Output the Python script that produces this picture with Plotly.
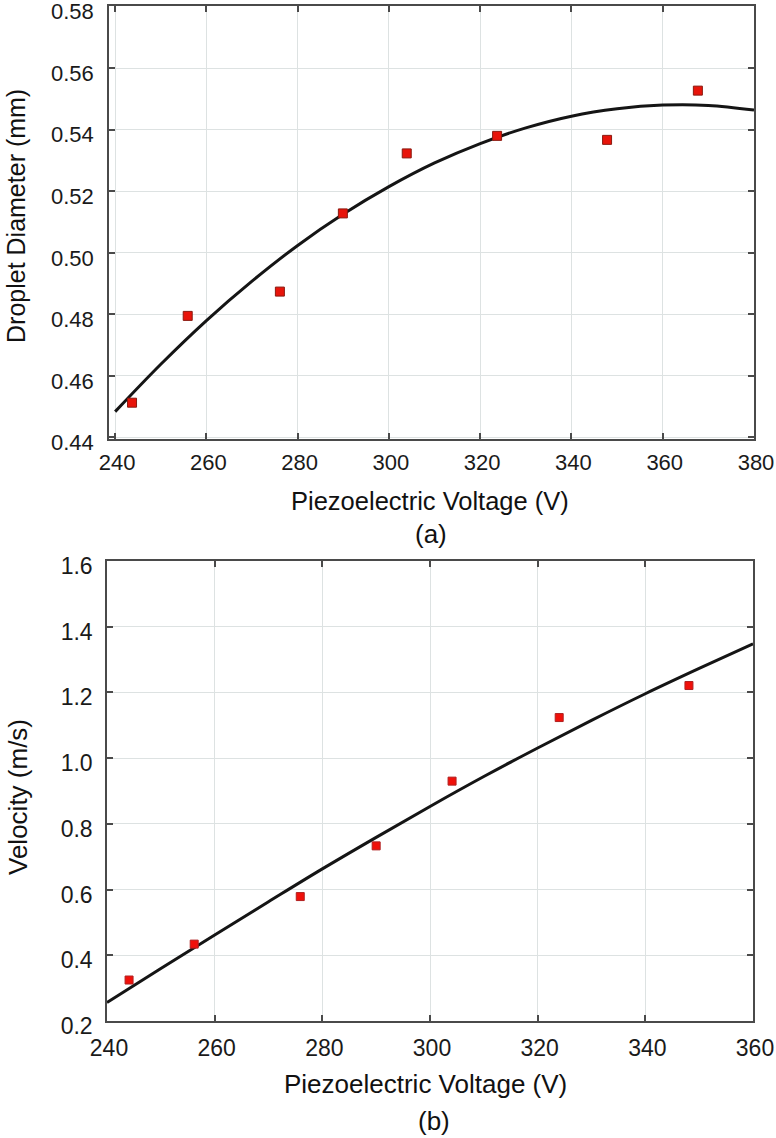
import plotly.graph_objects as go

# ---------------- data: panel (a) ----------------
voltage_a = [243.7, 255.9, 276.1, 289.9, 303.9, 323.7, 347.8, 367.7]
diameter_a = [0.4513, 0.4795, 0.4874, 0.5128, 0.5323, 0.5380, 0.5367, 0.5527]
fit_voltage_a = [240, 250, 260, 270, 280, 290, 300, 310, 320, 330, 340, 350, 360, 370, 380]
fit_diameter_a = [0.4484, 0.4638, 0.4780, 0.4908, 0.5024, 0.5126, 0.5215, 0.5292,
                  0.5355, 0.5406, 0.5444, 0.5468, 0.5480, 0.5479, 0.5464]

# ---------------- data: panel (b) ----------------
voltage_b = [244.1, 256.2, 275.9, 290.0, 304.1, 324.0, 348.1]
velocity_b = [0.3247, 0.4340, 0.5787, 0.7330, 0.9300, 1.1235, 1.2210]
fit_voltage_b = [240, 250, 260, 270, 280, 290, 300, 310, 320, 330, 340, 350, 360]
fit_velocity_b = [0.256, 0.360, 0.462, 0.563, 0.663, 0.759, 0.853, 0.944,
                  1.031, 1.115, 1.196, 1.273, 1.348]

xticks_a = [240, 260, 280, 300, 320, 340, 360, 380]
yticks_a = [0.44, 0.46, 0.48, 0.50, 0.52, 0.54, 0.56, 0.58]
xticks_b = [240, 260, 280, 300, 320, 340, 360]
yticks_b = [0.2, 0.4, 0.6, 0.8, 1.0, 1.2, 1.4, 1.6]

W, H = 776, 1138
FONT = "Liberation Sans, Arial, Helvetica, sans-serif"
LINE = "#4a4a4a"
GRID = "#dde2e2"

fig = go.Figure()

fig.add_trace(go.Scatter(x=fit_voltage_a, y=fit_diameter_a, mode="lines",
                         line=dict(color="#151515", width=3, shape="spline"),
                         xaxis="x", yaxis="y", showlegend=False))
fig.add_trace(go.Scatter(x=voltage_a, y=diameter_a, mode="markers",
                         marker=dict(symbol="square", size=9, color="#e8140a",
                                     line=dict(color="#8a1a10", width=1)),
                         xaxis="x", yaxis="y", showlegend=False))

fig.add_trace(go.Scatter(x=fit_voltage_b, y=fit_velocity_b, mode="lines",
                         line=dict(color="#151515", width=3, shape="spline"),
                         xaxis="x2", yaxis="y2", showlegend=False))
fig.add_trace(go.Scatter(x=voltage_b, y=velocity_b, mode="markers",
                         marker=dict(symbol="square", size=8, color="#f0100a",
                                     line=dict(color="#b02020", width=1)),
                         xaxis="x2", yaxis="y2", showlegend=False))


def ax(size, **kw):
    base = dict(showline=True, linecolor=LINE, linewidth=1.5, mirror="ticks",
                ticks="inside", ticklen=6, tickwidth=1.5, tickcolor=LINE,
                showgrid=True, gridcolor=GRID, gridwidth=1, zeroline=False,
                automargin=False, ticklabeloverflow="allow",
                tickfont=dict(family=FONT, size=size, color="#1a1a1a"))
    base.update(kw)
    return base


def px_x(p):
    return min(1.0, max(0.0, p / W))


def px_y(p):
    return min(1.0, max(0.0, 1 - p / H))


fig.update_layout(
    width=W, height=H,
    margin=dict(l=0, r=0, t=0, b=0),
    paper_bgcolor="white", plot_bgcolor="white",
    xaxis=ax(22, domain=[px_x(109), px_x(754)], range=[238.65, 380],
             tickvals=xticks_a, ticktext=[str(v) for v in xticks_a],
             anchor="y", ticklabelstandoff=3, ticklabelshift=2),
    yaxis=ax(22, domain=[px_y(439), px_y(6)], range=[0.4395, 0.5802],
             tickvals=yticks_a, ticktext=[f"{v:.2f}" for v in yticks_a],
             anchor="x", ticklabelstandoff=9, ticklabelshift=5),
    xaxis2=ax(23, domain=[px_x(107), px_x(753)], range=[240, 360],
              tickvals=xticks_b, ticktext=[str(v) for v in xticks_b],
              anchor="y2", ticklabelstandoff=6, ticklabelshift=2),
    yaxis2=ax(23, domain=[px_y(1021), px_y(561)], range=[0.2, 1.6],
              tickvals=yticks_b, ticktext=[f"{v:.1f}" for v in yticks_b],
              anchor="x2", ticklabelstandoff=8, ticklabelshift=5),
)

annots = [
    dict(text="Piezoelectric Voltage (V)", x=px_x(430), y=px_y(501), size=25.5),
    dict(text="(a)", x=px_x(431), y=px_y(534), size=26),
    dict(text="Droplet Diameter (mm)", x=px_x(16), y=px_y(216), textangle=-90, size=25),
    dict(text="Piezoelectric Voltage (V)", x=px_x(425), y=px_y(1084), size=26),
    dict(text="(b)", x=px_x(434), y=px_y(1121), size=26),
    dict(text="Velocity (m/s)", x=px_x(18), y=px_y(797), textangle=-90, size=26),
]
for a in annots:
    s = a.pop("size")
    a.update(xref="paper", yref="paper", showarrow=False,
             font=dict(family=FONT, size=s, color="#111"),
             xanchor="center", yanchor="middle")
    fig.add_annotation(**a)

fig.write_html("out.html", config={"displayModeBar": False},
               post_script="document.body.style.margin='0px';")
